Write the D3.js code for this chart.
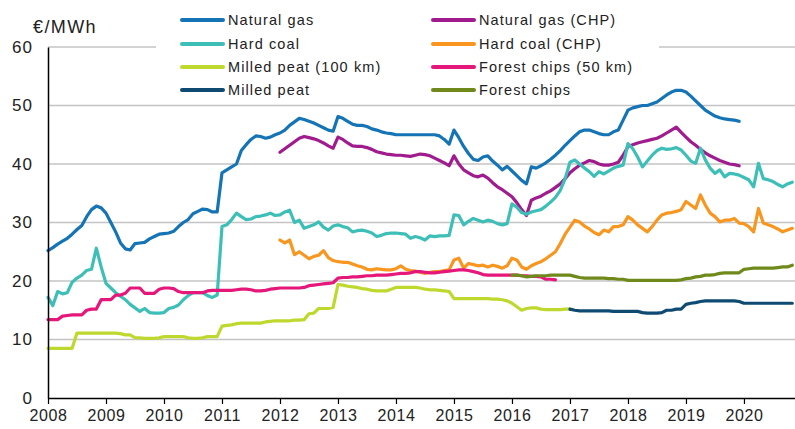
<!DOCTYPE html>
<html>
<head>
<meta charset="utf-8">
<script src="https://cdn.jsdelivr.net/npm/d3@7"></script>
<style>
  body { margin: 0; background: #fff; }
  text { font-family: "Liberation Sans", Arial, sans-serif; fill: #222; }
</style>
</head>
<body>
<div id="chart"></div>
<script>
// monthly prices, €/MWh. each series has its own start month
var names = ["Natural gas", "Natural gas (CHP)", "Hard coal", "Hard coal (CHP)",
             "Milled peat (100 km)", "Forest chips (50 km)", "Milled peat", "Forest chips"];
var colors = ["#1474b5", "#a01c8e", "#3dbfb8", "#f8961f", "#bfd82d", "#e5177b", "#0e4a72", "#6f8a1b"];
var starts = [2008, 2012, 2008, 2012, 2008, 2008, 2017, 2016]; // first value is january of this year

var naturalGas = [
  25.2,25.7,26.3,26.8,27.3,28.0,28.8,29.5,31.0,32.2,32.8,32.5,
  31.6,30.0,28.4,26.5,25.5,25.3,26.4,26.5,26.6,27.2,27.6,28.0,
  28.1,28.2,28.5,29.3,30.0,30.5,31.5,31.9,32.3,32.2,31.8,31.8,
  38.5,39.0,39.5,40.0,42.3,43.3,44.2,44.8,44.7,44.4,44.6,45.0,
  45.3,45.8,46.6,47.2,47.8,47.6,47.3,47.0,46.6,46.2,45.8,45.6,
  48.1,47.8,47.3,46.8,46.6,46.6,46.4,46.0,45.8,45.5,45.3,45.2,
  45.0,45.0,45.0,45.0,45.0,45.0,45.0,45.0,45.0,44.8,44.2,43.4,
  45.8,44.5,43.0,41.8,40.8,40.6,41.2,41.4,40.5,39.8,39.0,39.6,
  38.8,38.0,37.2,36.6,39.5,39.3,39.7,40.2,40.8,41.5,42.3,43.2,
  44.0,44.8,45.5,45.8,45.8,45.5,45.2,45.0,45.0,45.5,45.8,47.5,
  49.2,49.6,49.8,50.0,50.0,50.3,50.6,51.2,51.8,52.3,52.6,52.6,
  52.3,51.6,50.8,50.0,49.2,48.7,48.2,47.9,47.7,47.6,47.5,47.3
];
var naturalGasCHP = [
  42.0,42.6,43.2,43.8,44.4,44.7,44.5,44.3,44.0,43.6,43.1,42.7,
  44.6,44.2,43.6,43.1,43.0,43.0,42.8,42.5,42.1,41.9,41.7,41.6,
  41.5,41.5,41.4,41.3,41.5,41.7,41.6,41.4,41.0,40.6,40.2,39.7,
  41.4,40.0,39.0,38.5,38.0,37.8,38.1,37.6,36.8,36.1,35.6,35.0,
  34.4,33.4,32.2,31.2,33.8,34.2,34.5,35.0,35.4,36.0,36.6,37.5,
  38.5,39.2,39.8,40.2,40.6,40.4,40.0,39.8,39.8,40.0,40.3,41.5,
  43.0,43.3,43.6,43.8,44.0,44.2,44.4,44.8,45.3,45.8,46.3,45.4,
  44.6,43.8,43.2,42.5,41.9,41.4,41.0,40.6,40.3,40.0,39.9,39.7
];
var hardCoal = [
  17.2,15.8,18.2,17.8,18.0,19.8,20.5,21.0,21.8,22.0,25.6,22.4,
  19.6,18.8,18.0,17.4,16.8,16.0,15.4,14.8,15.3,14.6,14.5,14.5,
  14.6,15.3,15.5,15.9,16.8,17.5,18.0,18.0,18.0,17.5,17.2,17.6,
  29.3,29.6,30.5,31.6,31.0,30.5,30.6,31.0,31.1,31.3,31.6,31.2,
  31.3,31.8,32.1,30.0,30.4,29.0,29.3,29.6,30.1,29.2,28.7,29.4,
  29.6,29.3,29.1,28.4,28.6,28.7,28.5,28.2,27.6,27.8,28.1,28.2,
  28.2,28.1,28.0,27.3,27.6,27.4,27.0,27.7,27.6,27.7,27.7,27.8,
  31.3,31.2,29.6,30.2,30.7,30.4,30.1,30.4,30.2,29.8,29.6,29.8,
  33.2,32.6,31.7,31.4,31.8,32.0,32.2,32.8,33.5,34.3,35.5,37.5,
  40.3,40.7,40.0,39.3,38.7,37.9,38.7,38.3,38.8,39.3,39.6,39.8,
  43.5,42.6,41.2,39.5,40.5,41.5,42.3,42.7,42.5,42.6,42.8,42.4,
  41.5,40.5,40.1,42.7,40.7,39.3,38.4,39.0,37.8,38.4,38.3,38.1,
  37.7,37.3,36.1,40.1,37.5,37.3,37.0,36.5,36.1,36.6,36.9
];
var hardCoalCHP = [
  27.0,26.5,27.0,24.5,25.0,24.4,23.8,24.2,24.4,25.2,24.0,23.5,
  23.3,23.2,23.2,22.9,22.6,22.4,22.0,21.9,22.1,22.0,21.9,21.9,
  22.1,22.6,22.0,21.8,21.7,21.5,21.3,21.5,21.6,21.6,21.8,21.9,
  23.6,23.9,22.2,23.0,22.8,22.6,22.7,22.4,22.7,22.5,22.2,22.6,
  23.9,23.6,22.4,22.0,22.6,23.0,23.3,23.8,24.4,25.0,26.4,28.0,
  29.2,30.4,30.1,29.4,28.9,28.3,27.9,28.7,28.4,29.3,29.3,29.6,
  31.0,30.4,29.6,29.0,28.4,29.3,30.4,31.3,31.6,31.7,31.9,32.2,
  33.6,33.0,32.4,34.7,33.0,31.6,31.0,30.1,30.4,30.4,30.7,29.9,
  29.8,29.3,28.4,32.4,29.9,29.6,29.3,28.9,28.4,28.7,29.0
];
var milledPeat100 = [
  8.5,8.5,8.5,8.5,8.5,8.5,11.1,11.1,11.1,11.1,11.1,11.1,
  11.1,11.1,11.1,11.0,10.8,10.8,10.3,10.3,10.2,10.2,10.2,10.3,
  10.5,10.5,10.5,10.5,10.5,10.3,10.2,10.2,10.3,10.5,10.5,10.5,
  12.3,12.4,12.5,12.7,12.8,12.8,12.8,12.8,12.8,13.0,13.1,13.2,
  13.2,13.2,13.2,13.3,13.3,13.4,14.4,14.5,15.3,15.3,15.3,15.5,
  19.4,19.3,19.1,19.0,18.9,18.7,18.6,18.4,18.3,18.3,18.3,18.6,
  18.9,18.9,18.9,18.9,18.9,18.8,18.6,18.5,18.5,18.4,18.3,18.2,
  17.0,17.0,17.0,17.0,17.0,17.0,17.0,17.0,16.9,16.9,16.8,16.6,
  16.2,15.6,15.0,15.3,15.4,15.4,15.2,15.1,15.1,15.1,15.1,15.2,
  15.2
];
var forestChips50 = [
  13.4,13.4,13.4,14.0,14.1,14.2,14.2,14.2,15.0,15.2,15.2,16.8,
  16.8,16.8,17.6,17.6,17.9,18.8,18.8,18.8,17.9,17.9,17.9,18.6,
  18.8,18.8,18.7,18.2,18.0,18.0,18.0,18.0,18.0,18.3,18.4,18.4,
  18.4,18.4,18.4,18.5,18.6,18.6,18.5,18.3,18.3,18.4,18.6,18.7,
  18.8,18.8,18.8,18.8,18.8,18.9,19.2,19.3,19.4,19.5,19.6,19.7,
  20.5,20.6,20.6,20.7,20.7,20.8,20.9,20.9,21.0,21.0,21.0,21.1,
  21.2,21.3,21.3,21.4,21.6,21.6,21.5,21.4,21.4,21.5,21.6,21.7,
  21.8,21.9,21.9,21.8,21.6,21.4,21.1,21.0,21.0,21.0,21.0,21.0,
  21.0,21.0,20.9,20.9,20.8,20.8,20.7,20.3,20.3,20.2
];
var milledPeat = [
  15.2,15.0,14.9,14.9,14.9,14.9,14.9,14.9,14.9,14.8,14.8,14.8,
  14.8,14.8,14.8,14.6,14.5,14.5,14.5,14.6,15.0,15.0,15.2,15.2,
  16.0,16.2,16.3,16.5,16.6,16.6,16.6,16.6,16.6,16.6,16.6,16.5,
  16.2,16.2,16.2,16.2,16.2,16.2,16.2,16.2,16.2,16.2,16.2
];
var forestChips = [
  21.0,21.0,20.9,20.7,20.8,20.9,20.9,20.9,21.0,21.0,21.0,21.0,
  21.0,20.8,20.6,20.5,20.5,20.5,20.5,20.5,20.4,20.4,20.3,20.3,
  20.1,20.1,20.1,20.1,20.1,20.1,20.1,20.1,20.1,20.1,20.1,20.2,
  20.4,20.5,20.7,20.8,21.0,21.0,21.1,21.3,21.4,21.4,21.4,21.4,
  22.0,22.1,22.2,22.2,22.2,22.2,22.2,22.3,22.4,22.4,22.7
];
var allSeries = [naturalGas, naturalGasCHP, hardCoal, hardCoalCHP, milledPeat100, forestChips50, milledPeat, forestChips];

var yTicks = [0, 10, 20, 30, 40, 50, 60];
var xTicks = [2008, 2009, 2010, 2011, 2012, 2013, 2014, 2015, 2016, 2017, 2018, 2019, 2020];

const svgW = 795, svgH = 429;
const plotL = 48, plotR = 795, plotT = 47, plotB = 398;

var svg = d3.select("#chart").append("svg")
  .attr("width", svgW)
  .attr("height", svgH);

var x = d3.scaleLinear().domain([2008, 2020.88]).range([plotL, plotR]);
var y = d3.scaleLinear().domain([0, 60]).range([plotB, plotT]);

// gridlines
svg.append("g")
  .selectAll("line")
  .data(yTicks.filter(d => d > 0))
  .join("line")
  .attr("x1", plotL).attr("x2", plotR)
  .attr("y1", d => y(d)).attr("y2", d => y(d))
  .style("stroke", "#c4c4c4")
  .style("stroke-width", 1.5);

// white legend box sits on top of the 60 gridline
svg.append("rect")
  .attr("x", 156).attr("y", 4)
  .attr("width", 503).attr("height", 98)
  .style("fill", "#fff");

// lines, legend order = draw order
var line = d3.line()
  .x(d => x(d.t))
  .y(d => y(d.v));

allSeries.forEach(function (vals, i) {
  var pts = vals.map((v, k) => ({ t: starts[i] + k / 12, v: v }));
  svg.append("path")
    .datum(pts)
    .attr("d", line)
    .style("fill", "none")
    .style("stroke", colors[i])
    .style("stroke-width", 3.2)
    .style("stroke-linejoin", "round")
    .style("stroke-linecap", "round");
});

// y axis: just the line + labels
var yAxis = svg.append("g")
  .attr("transform", "translate(" + plotL + ",0)")
  .call(d3.axisLeft(y).tickValues(yTicks).tickSize(0).tickPadding(15));
yAxis.select(".domain").style("stroke", "#000").style("stroke-width", 1.5);
yAxis.selectAll("text")
  .style("font-size", "17px")
  .style("letter-spacing", "1px")
  .style("fill", "#222")
  .style("font-family", "'Liberation Sans', Arial, sans-serif");

// x axis with small ticks under the line
var xAxis = svg.append("g")
  .attr("transform", "translate(0," + plotB + ")")
  .call(d3.axisBottom(x).tickValues(xTicks).tickFormat(d3.format("d")).tickSize(6).tickSizeOuter(0).tickPadding(6));
xAxis.select(".domain").style("stroke", "#000").style("stroke-width", 1.5);
xAxis.selectAll(".tick line").style("stroke", "#000").style("stroke-width", 1.2);
xAxis.selectAll("text")
  .style("font-size", "16px")
  .style("letter-spacing", "0.6px")
  .style("fill", "#222")
  .style("font-family", "'Liberation Sans', Arial, sans-serif");

// unit label
svg.append("text")
  .attr("x", 33).attr("y", 33)
  .style("font-size", "18px")
  .style("letter-spacing", "1.4px")
  .text("€/MWh");

// legend, two columns
var legX = [182, 433];
var legY = [20, 44, 67, 90];
var legend = svg.append("g");
names.forEach(function (name, i) {
  var col = i % 2, row = Math.floor(i / 2);
  var lx = legX[col], ly = legY[row];
  legend.append("line")
    .attr("x1", lx).attr("x2", lx + 41)
    .attr("y1", ly).attr("y2", ly)
    .style("stroke", colors[i])
    .style("stroke-width", 4)
    .style("stroke-linecap", "round");
  legend.append("text")
    .attr("x", lx + 46).attr("y", ly + 5)
    .style("font-size", "14.5px")
    .style("letter-spacing", "1.1px")
    .text(name);
});
</script>
</body>
</html>
